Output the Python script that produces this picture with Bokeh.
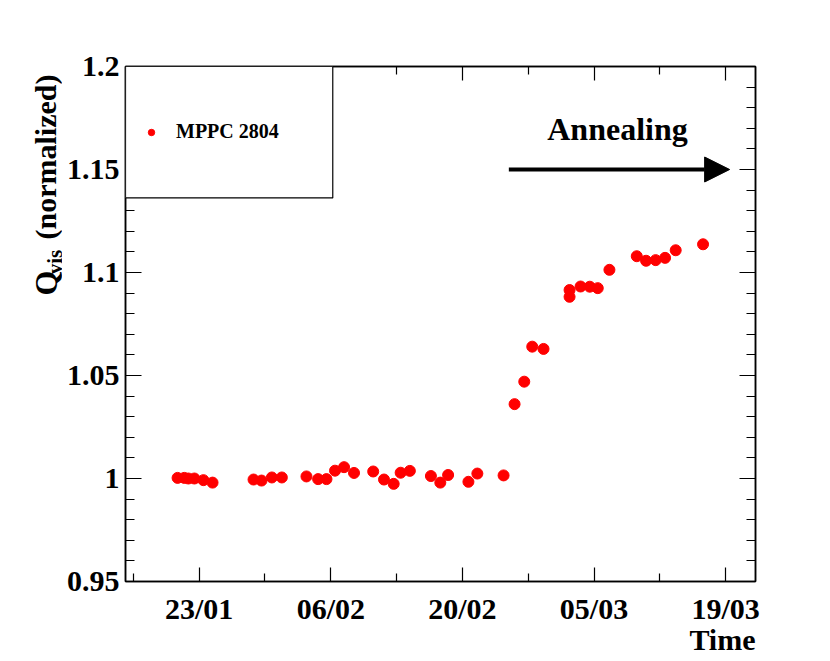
import math
from bokeh.plotting import figure
from bokeh.layouts import row
from bokeh.models import (Range1d, FixedTicker, LinearAxis, NumeralTickFormatter, Title,
                          Label, Arrow, NormalHead, BoxAnnotation, Legend, LegendItem)
from bokeh.embed import file_html
from bokeh.resources import INLINE

# ---- data (x = day of year 2012, y = normalized Q_vis) ----
days = [20.70, 21.41, 21.85, 22.49, 23.45, 24.42,
        28.78, 29.63, 30.73, 31.79,
        34.41, 35.65, 36.54, 37.45, 38.41, 39.47,
        41.51, 42.66, 43.69, 44.43, 45.41,
        47.65, 48.65, 49.48, 51.64, 52.59, 55.38,
        56.55, 57.58, 58.43, 59.63, 62.40, 62.40, 63.57, 64.55, 65.40, 66.64,
        69.55, 70.54, 71.56, 72.56, 73.69, 76.60]
qvis = [1.0003, 1.0003, 1.0000, 1.0000, 0.9992, 0.9980,
        0.9995, 0.9990, 1.0005, 1.0005,
        1.0010, 0.9997, 0.9997, 1.0038, 1.0055, 1.0027,
        1.0034, 0.9995, 0.9974, 1.0028, 1.0037,
        1.0012, 0.9980, 1.0017, 0.9984, 1.0024, 1.0015,
        1.0361, 1.0470, 1.0640, 1.0629, 1.0882, 1.0915, 1.0932, 1.0931, 1.0924, 1.1013,
        1.1079, 1.1057, 1.1060, 1.1071, 1.1108, 1.1137]

x_tick_days = [23, 37, 51, 65, 79]
x_tick_labels = ["23/01", "06/02", "20/02", "05/03", "19/03"]
x_minor_days = [16, 30, 44, 58, 72]
y_ticks = [0.95, 1.0, 1.05, 1.1, 1.15, 1.2]
y_minor = [round(0.95 + 0.01 * i, 2) for i in range(26)]

series_label = "MPPC 2804"
annot_text = "Annealing"
x_title = "Time"
y_title_main = "Q"
y_title_sub = "vis"
y_title_rest = "(normalized)"
arrow_x = (55.94, 79.43)
arrow_y = 1.15

FONT = "Liberation Serif"
H = 652
LW = 62

p = figure(width=814 - LW, height=H, output_backend="svg", toolbar_location=None,
           x_range=Range1d(15.16, 82.18), y_range=Range1d(0.95, 1.2),
           min_border_left=125 - LW, min_border_right=59, min_border_top=66,
           min_border_bottom=H - 581)
p.background_fill_color = "white"
p.border_fill_color = "white"
p.outline_line_color = "black"
p.outline_line_width = 1.5
p.grid.visible = False

r = p.scatter(days, qvis, size=11, color="#ff0000", marker="circle")

def style_axis(ax, major_in, minor_in, ticks, labels=True):
    ax.axis_line_color = "black"
    ax.axis_line_width = 1.5
    ax.major_tick_line_color = "black"
    ax.minor_tick_line_color = "black"
    ax.major_tick_line_width = 1.2
    ax.minor_tick_line_width = 1.2
    ax.major_tick_in = major_in
    ax.major_tick_out = 0
    ax.minor_tick_in = minor_in
    ax.minor_tick_out = 0
    ax.major_label_text_font = FONT
    ax.major_label_text_font_style = "bold"
    ax.major_label_text_color = "black"
    ax.major_label_text_font_size = "30px"
    if not labels:
        ax.major_label_overrides = {t: "" for t in ticks}
        ax.major_label_standoff = 0

xt = FixedTicker(ticks=x_tick_days, minor_ticks=x_minor_days)
yt = FixedTicker(ticks=y_ticks, minor_ticks=y_minor)

xa = p.xaxis[0]
xa.ticker = xt
xa.major_label_overrides = {d: l for d, l in zip(x_tick_days, x_tick_labels)}
style_axis(xa, 14, 8, x_tick_days)
xa.major_label_standoff = 10

ya = p.yaxis[0]
ya.ticker = yt
ya.formatter = NumeralTickFormatter(format="0.[00]")
style_axis(ya, 16, 9, y_ticks)
ya.major_label_standoff = 6

top = LinearAxis(ticker=xt)
style_axis(top, 14, 8, x_tick_days, labels=False)
p.add_layout(top, "above")
right = LinearAxis(ticker=yt)
style_axis(right, 16, 9, y_ticks, labels=False)
p.add_layout(right, "right")

# x-axis title, right aligned under the frame
p.add_layout(Title(text=x_title, align="right", standoff=-14, text_font=FONT,
                   text_font_style="bold", text_font_size="30px",
                   text_color="black"), "below")

# legend box
box = BoxAnnotation(left=15.16, right=37.21, bottom=1.1362, top=1.2,
                    fill_color="white", fill_alpha=1.0,
                    line_color="black", line_width=1.2, line_alpha=1.0)
p.add_layout(box)
legend = Legend(items=[LegendItem(label=series_label, renderers=[r])],
                location=(18, 438), padding=0, margin=0, spacing=0,
                glyph_width=16, glyph_height=16, label_height=16,
                label_standoff=17, border_line_color=None,
                background_fill_alpha=0.0,
                label_text_font=FONT, label_text_font_style="bold",
                label_text_font_size="20px", label_text_color="black",
                label_text_baseline="middle")
p.add_layout(legend)

# annealing arrow + text
p.add_layout(Arrow(x_start=arrow_x[0], y_start=arrow_y, x_end=arrow_x[1], y_end=arrow_y,
                   line_width=4, line_color="black",
                   end=NormalHead(size=25, fill_color="black", line_color="black")))
p.add_layout(Label(x=67.5, y=1.1695, text=annot_text, text_align="center",
                   text_baseline="alphabetic", text_font=FONT, text_font_style="bold",
                   text_font_size="32px", text_color="black"))

# y-axis title panel (left strip, pixel coordinates from its bottom-left)
q = figure(width=LW, height=H, output_backend="svg", toolbar_location=None,
           x_range=Range1d(0, LW), y_range=Range1d(0, H),
           min_border_left=0, min_border_right=0, min_border_top=0, min_border_bottom=0)
q.axis.visible = False
q.grid.visible = False
q.outline_line_color = None
q.background_fill_color = "white"
q.border_fill_color = "white"
q.add_layout(Label(x=45, y=H - 290, text=y_title_main, angle=math.pi / 2,
                   text_align="left", text_baseline="alphabetic", text_font=FONT,
                   text_font_style="bold", text_font_size="32px", text_color="black"))
q.add_layout(Label(x=54, y=H - 263, text=y_title_sub, angle=math.pi / 2,
                   text_align="left", text_baseline="alphabetic", text_font=FONT,
                   text_font_style="bold", text_font_size="21px", text_color="black"))
q.add_layout(Label(x=45, y=H - 219, text=y_title_rest, angle=math.pi / 2,
                   text_align="left", text_baseline="alphabetic", text_font=FONT,
                   text_font_style="bold", text_font_size="30px", text_color="black"))

layout = row(q, p, spacing=0)
open("out.html", "w").write(file_html(layout, INLINE))
